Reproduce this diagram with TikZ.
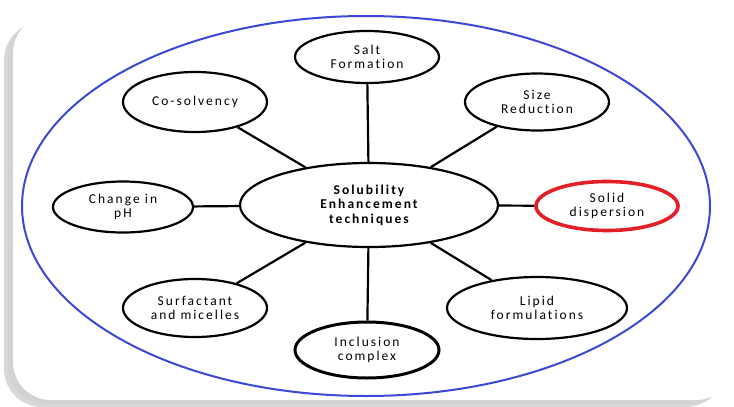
\documentclass[tikz,border=0pt]{standalone}
\usepackage{fontspec}
\setmainfont{Carlito}[LetterSpace=15, Ligatures=NoCommon]
\usepackage{tikz}
\usetikzlibrary{shapes.geometric, shadows}

\definecolor{ringblue}{RGB}{62,72,215}
\definecolor{ringred}{RGB}{228,30,38}

\begin{document}
\begin{tikzpicture}[x=1pt, y=-1pt,
  technique/.style={ellipse, draw=black, line width=2.2pt, fill=white,
                    inner sep=0pt, align=center, font=\fontsize{13.5}{14.5}\selectfont},
  hub/.style={technique, font=\fontsize{13.5}{14.5}\selectfont\bfseries},
  spoke/.style={line width=2.2pt, black},
]
  \useasboundingbox (0,0) rectangle (734,407);

  % Card with shadow
  \fill[black!30, opacity=0.5, rounded corners=38pt] (4,22) rectangle (724,407);
  \fill[black!20, opacity=0.5, rounded corners=38pt] (8,19) rectangle (728,404);
  \fill[white, rounded corners=38pt] (13,15) rectangle (734,400);

  % Outer ring
  \draw[ringblue, line width=2pt] (366,206) ellipse [x radius=344, y radius=190];

  % Centre
  \node[hub, minimum width=258pt, minimum height=84pt] at (369,205) (centre)
    {Solubility\\Enhancement\\techniques};

  % Techniques
  \node[technique, minimum width=144pt, minimum height=52pt] at (367,57)  (salt) {Salt\\Formation};
  \node[technique, minimum width=144pt, minimum height=60pt] at (195,102) (cosolv) {Co-solvency};
  \node[technique, minimum width=144pt, minimum height=57pt] at (537,102) (size) {Size\\Reduction};
  \node[technique, minimum width=140pt, minimum height=51pt] at (123,207) (ph) {Change in\\pH};
  \node[technique, draw=ringred, line width=3.6pt, minimum width=142pt, minimum height=49pt]
       at (607,206) (solid) {Solid\\dispersion};
  \node[technique, minimum width=144pt, minimum height=58pt] at (195,308) (surf) {Surfactant\\and micelles};
  \node[technique, line width=3pt, minimum width=144pt, minimum height=56pt]
       at (367,350) (incl) {Inclusion\\complex};
  \node[technique, minimum width=180pt, minimum height=62pt] at (537,308) (lipid) {Lipid\\formulations};

  % Spokes
  \foreach \t in {salt, cosolv, size, ph, solid, surf, incl, lipid} {
    \draw[spoke] (centre) -- (\t);
  }
\end{tikzpicture}
\end{document}
